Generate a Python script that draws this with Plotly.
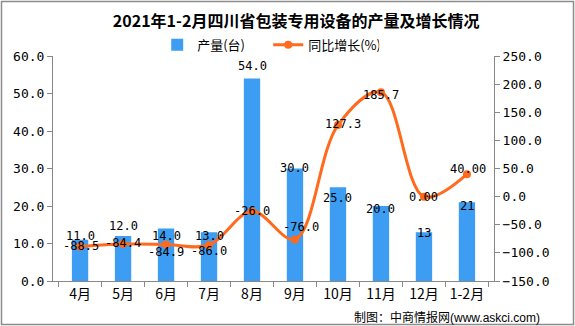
import plotly.graph_objects as go

categories = ["4月", "5月", "6月", "7月", "8月", "9月", "10月", "11月", "12月", "1-2月"]
output_units = [11.0, 12.0, 14.0, 13.0, 54.0, 30.0, 25.0, 20.0, 13.0, 21.0]
output_labels = ["11.0", "12.0", "14.0", "13.0", "54.0", "30.0", "25.0", "20.0", "13", "21"]
growth_pct = [-88.5, -84.4, -84.9, -86.0, -26.0, -76.0, 127.3, 185.7, 0.00, 40.00]
growth_labels = ["-88.5", "-84.4", "-84.9", "-86.0", "-26.0", "-76.0", "127.3", "185.7", "0.00", "40.00"]
left_ticks = [0, 10, 20, 30, 40, 50, 60]
right_ticks = [-150, -100, -50, 0, 50, 100, 150, 200, 250]

# label offsets (style only)
bar_label_shift = [4, 10, -7, -4, 13, 1, -11, -3, -1, -4]
line_label_shift_y = [0, 1, -8, -6, 0, 12, 1, -3, 0, 5]
line_label_shift_x = [1, 0, 0, 0, 0, 6, 5, 0, 0, 1]

BAR = "#3D9DF2"
LINE = "#FF6A1F"
NUMFONT = "DejaVu Sans Mono, Noto Sans CJK SC"

W, H = 575, 326
L, R, T, B = 53, 81, 56, 45
PW, PH = W - L - R, H - T - B


def px_x(p):
    return (p - L) / PW


def px_y(p):
    return (H - B - p) / PH


fig = go.Figure()
fig.add_trace(go.Bar(
    x=categories, y=output_units, name="产量(台)",
    marker=dict(color=BAR, line=dict(width=0)),
    width=0.38, yaxis="y",
))
fig.add_trace(go.Scatter(
    x=categories, y=growth_pct, name="同比增长(%)", yaxis="y2",
    mode="lines+markers",
    line=dict(color=LINE, width=3, shape="spline", smoothing=1.0),
    marker=dict(color=LINE, size=8),
    cliponaxis=False,
))

annotations = []
for i, c in enumerate(categories):
    annotations.append(dict(
        x=c, y=output_units[i], xref="x", yref="y", text=output_labels[i],
        showarrow=False, yshift=bar_label_shift[i], yanchor="middle",
        font=dict(family=NUMFONT, size=12, color="#000000"),
    ))
    annotations.append(dict(
        x=c, y=growth_pct[i], xref="x", yref="y2", text=growth_labels[i],
        showarrow=False, yshift=line_label_shift_y[i], xshift=line_label_shift_x[i],
        yanchor="middle",
        font=dict(family=NUMFONT, size=12, color="#000000"),
    ))

annotations.append(dict(
    x=px_x(542), y=px_y(316), xref="paper", yref="paper", xanchor="right", yanchor="middle",
    text="制图：中商情报网<span style='font-family:Arial, Liberation Sans'>(www.askci.com)</span>",
    showarrow=False, font=dict(family="Noto Sans CJK SC", size=12, color="#000000"),
))

border = [
    dict(type="line", xref="paper", yref="paper", x0=px_x(1.5), x1=px_x(1.5), y0=px_y(1), y1=px_y(325)),
    dict(type="line", xref="paper", yref="paper", x0=px_x(573.5), x1=px_x(573.5), y0=px_y(1), y1=px_y(325)),
    dict(type="line", xref="paper", yref="paper", x0=px_x(1), x1=px_x(574), y0=px_y(1.5), y1=px_y(1.5)),
    dict(type="line", xref="paper", yref="paper", x0=px_x(1), x1=px_x(574), y0=px_y(324.5), y1=px_y(324.5)),
]
for s in border:
    s["line"] = dict(color="#8C8C8C", width=1.5)
    s["layer"] = "above"

fig.update_layout(
    width=W, height=H,
    margin=dict(l=L, r=R, t=T, b=B, autoexpand=False),
    paper_bgcolor="white", plot_bgcolor="white",
    title=dict(
        text="<b>2021年1-2月四川省包装专用设备的产量及增长情况</b>",
        x=0.515, xanchor="center", y=0.935, yanchor="middle",
        font=dict(family="Noto Sans CJK SC", size=16, color="#000000"),
    ),
    legend=dict(
        orientation="h", x=0.488, xanchor="center", y=1.05, yanchor="middle",
        font=dict(family="Noto Sans CJK SC", size=13, color="#000000"),
        itemwidth=30, bgcolor="rgba(0,0,0,0)", entrywidth=66,
    ),
    bargap=0.6,
    showlegend=True,
    xaxis=dict(
        type="category", showline=True, linecolor="#888888", linewidth=1,
        ticks="outside", tickson="boundaries", ticklen=5, tickcolor="#888888",
        tickangle=0, automargin=False,
        tickfont=dict(family="Noto Sans CJK SC, DejaVu Sans Mono", size=14, color="#000000"),
        showgrid=False, zeroline=False,
    ),
    yaxis=dict(
        range=[0, 60], tickvals=left_ticks, tickformat=".1f",
        showline=True, linecolor="#888888", linewidth=1, automargin=False,
        ticks="outside", ticklen=5, tickcolor="#888888",
        tickfont=dict(family=NUMFONT, size=13, color="#000000"),
        showgrid=False, zeroline=False,
    ),
    yaxis2=dict(
        range=[-150, 250], tickvals=right_ticks, tickformat=".1f",
        overlaying="y", side="right", automargin=False,
        showline=True, linecolor="#888888", linewidth=1,
        ticks="outside", ticklen=5, tickcolor="#888888",
        tickfont=dict(family=NUMFONT, size=13, color="#000000"),
        showgrid=False, zeroline=False,
    ),
    annotations=annotations,
    shapes=border,
)

fig.write_html("out.html")
